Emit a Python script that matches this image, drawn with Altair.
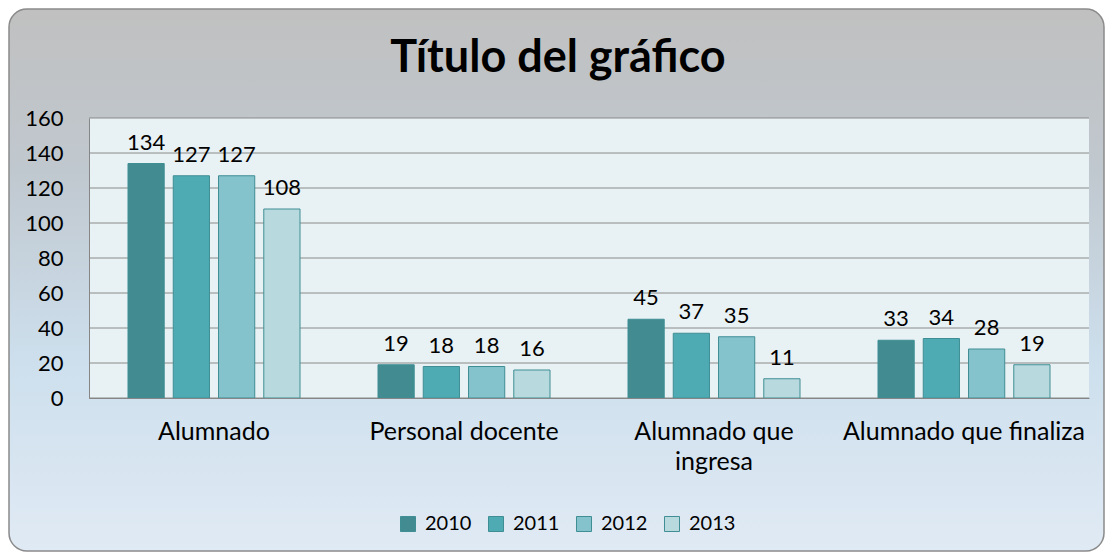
import altair as alt
import pandas as pd

categories = ["Alumnado", "Personal docente", "Alumnado que ingresa", "Alumnado que finaliza"]
years = ["2010", "2011", "2012", "2013"]
v2010 = [134, 19, 45, 33]
v2011 = [127, 18, 37, 34]
v2012 = [127, 18, 35, 28]
v2013 = [108, 16, 11, 19]
y_ticks = [0, 20, 40, 60, 80, 100, 120, 140, 160]
colors = ["#418b91", "#4fabb3", "#84c3cb", "#b8dade"]
title_text = "Título del gráfico"

series = {"2010": v2010, "2011": v2011, "2012": v2012, "2013": v2013}
rows = []
for yr in years:
    for cat, val in zip(categories, series[yr]):
        rows.append({"category": cat, "year": yr, "value": val})
df = pd.DataFrame(rows)
ticks_df = pd.DataFrame({"tick": y_ticks})

W, H = 1000, 280
PL, PT, TOTW, TOTH = 81, 110, 1097, 544
FONT = "Lato"

one = alt.Data(values=[{"k": 1}])

bg = alt.Chart(one).mark_rect(
    cornerRadius=18,
    stroke="#8a8a8a",
    strokeWidth=1.5,
    fill={
        "gradient": "linear", "x1": 0, "y1": 0, "x2": 0, "y2": 1,
        "stops": [
            {"offset": 0, "color": "#c0c0c0"},
            {"offset": 0.3, "color": "#c0c8cf"},
            {"offset": 0.65, "color": "#cddfed"},
            {"offset": 1, "color": "#e0eaf4"},
        ],
    },
).encode(
    x=alt.value(-PL + 1), x2=alt.value(TOTW - PL - 1),
    y=alt.value(-PT + 1), y2=alt.value(TOTH - PT - 1),
)

plotbg = alt.Chart(one).mark_rect(fill="#e8f1f3").encode(
    x=alt.value(0), x2=alt.value(W), y=alt.value(0), y2=alt.value(H)
)

title = alt.Chart(alt.Data(values=[{"t": title_text}])).mark_text(
    font=FONT, fontSize=45, fontWeight="bold", color="#000000",
    align="center", baseline="alphabetic",
).encode(x=alt.value(558 - 8 - PL), y=alt.value(72 - 8 - PT), text="t:N")

yscale = alt.Scale(domain=[0, 160])
yaxis = alt.Axis(values=y_ticks, grid=False, ticks=False, domain=True,
                 domainColor="#868686", labelFontSize=22, labelFont=FONT,
                 labelColor="#000000", labelPadding=26, title=None, zindex=2)

grid = alt.Chart(ticks_df).mark_rule(color="#8a8a8a", strokeWidth=1).encode(
    y=alt.Y("tick:Q", scale=yscale, axis=yaxis),
    x=alt.value(0), x2=alt.value(W),
)

xenc = alt.X("category:N", sort=categories,
             scale=alt.Scale(paddingInner=0.312, paddingOuter=0.156),
             axis=alt.Axis(title=None, labelAngle=0, ticks=False, domain=True,
                           domainColor="#868686", labelFontSize=25, labelFont=FONT,
                           labelColor="#000000", labelPadding=21, labelLineHeight=30,
                           labelBaseline="top", labelLimit=0, zindex=2,
                           labelExpr="datum.label == 'Alumnado que ingresa' ? ['Alumnado que', 'ingresa'] : datum.label"))
xoff = alt.XOffset("year:N", sort=years, scale=alt.Scale(paddingInner=0.2, paddingOuter=0))

bars = alt.Chart(df).mark_bar(stroke="#3f8e94", strokeWidth=1).encode(
    x=xenc,
    xOffset=xoff,
    y=alt.Y("value:Q", scale=yscale, axis=yaxis),
    fill=alt.Fill("year:N", sort=years,
                  scale=alt.Scale(domain=years, range=colors),
                  legend=alt.Legend(title=None, orient="none", direction="horizontal",
                                    legendX=309, legendY=396, symbolType="square",
                                    symbolSize=225, symbolStrokeColor="#3f8e94",
                                    symbolStrokeWidth=1, labelFontSize=20,
                                    labelFont=FONT, labelColor="#000000",
                                    columnPadding=14, labelOffset=7, padding=0,
                                    zindex=2)),
)

labels = alt.Chart(df).mark_text(baseline="bottom", dy=-9, fontSize=22,
                                 font=FONT, color="#000000").encode(
    x=xenc,
    xOffset=xoff,
    y=alt.Y("value:Q", scale=yscale, axis=yaxis),
    text="value:Q",
)

chart = alt.layer(bg, plotbg, title, grid, bars, labels).properties(
    width=W, height=H,
    autosize=alt.AutoSizeParams(type="none"),
    padding={"left": PL, "top": PT, "right": TOTW - PL - W, "bottom": TOTH - PT - H},
).configure_view(stroke=None)

chart.save("out.html", embed_options={"renderer": "svg", "actions": False})
